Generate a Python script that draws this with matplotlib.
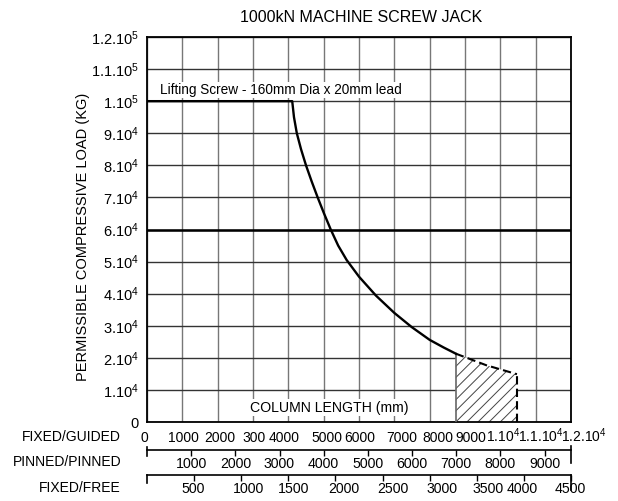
import matplotlib
matplotlib.use('Agg')
import matplotlib.pyplot as plt
from matplotlib.transforms import ScaledTranslation

plt.rcParams['font.family'] = ['Liberation Sans', 'DejaVu Sans']
plt.rcParams['mathtext.fontset'] = 'custom'
plt.rcParams['mathtext.rm'] = 'Liberation Sans'
plt.rcParams['mathtext.default'] = 'regular'
plt.rcParams['hatch.linewidth'] = 0.7

# permissible load curve (column length mm, load kg), fixed/guided scale
curve_x = [0, 4110, 4160, 4240, 4360, 4500, 4660, 4830, 5010, 5200, 5410, 5650,
           6000, 6480, 7000, 7490, 8000, 8400, 8740]
curve_y = [100000, 100000, 95000, 90000, 85000, 80000, 75000, 70000, 65000, 60000, 55000, 50500,
           45300, 39400, 34000, 29600, 25600, 23200, 21300]
# dashed extension over the hatched zone
dash_x = [8740, 9600, 10470]
dash_y = [21300, 17700, 14900]
limit_load = 60000

fg_ticks = list(range(0, 13000, 1000))
fg_labels = ['0', '1000', '2000', '300', '4000', '5000', '6000', '7000', '8000', '9000',
             r'$1.10^4$', r'$1.1.10^4$', r'$1.2.10^4$']
pp_ticks = [1000, 2000, 3000, 4000, 5000, 6000, 7000, 8000, 9000]
ff_ticks = [500, 1000, 1500, 2000, 2500, 3000, 3500, 4000, 4500]
load_ticks = list(range(0, 130000, 10000))
load_labels = ['0'] + [r'$%d.10^4$' % i for i in range(1, 10)] + [r'$1.10^5$', r'$1.1.10^5$', r'$1.2.10^5$']

fig = plt.figure(figsize=(6.18, 5.01), dpi=100)
ax = fig.add_axes([147 / 618, (501 - 422) / 501, 424 / 618, 385 / 501])
ax.set_xlim(0, 12000)
ax.set_ylim(0, 120000)

ax.set_xticks(fg_ticks)
ax.set_xticklabels(fg_labels)
ax.set_yticks(load_ticks)
ax.set_yticklabels(load_labels)
ax.tick_params(length=0, labelsize=10.5)
ax.tick_params(axis='x', pad=14.4, labelsize=10)
ax.tick_params(axis='y', pad=6)
ax.xaxis.grid(True, color='#777777', linewidth=1.0)
ax.yaxis.grid(True, color='#333333', linewidth=1.0)
ax.set_axisbelow(True)
for s in ax.spines.values():
    s.set_linewidth(1.3)


def nudge(labels, shifts):
    # hand-lettered labels sit a little off their ticks
    for lbl, dx in zip(labels, shifts):
        lbl.set_transform(lbl.get_transform() + ScaledTranslation(dx / 100, 0, fig.dpi_scale_trans))


for lbl in ax.get_xticklabels():
    lbl.set_verticalalignment('baseline')
nudge(ax.get_xticklabels(), [-3, 1, 2, 1, -4, 3, 1, 7, 8, 6, 3, 5, 13])

# curve
ax.plot(curve_x, curve_y, color='black', linewidth=1.7, zorder=4, solid_joinstyle='round')
ax.axhline(limit_load, color='black', linewidth=1.8, zorder=4)

# hatched zone
ax.fill_between(dash_x, 0, dash_y, facecolor='white', edgecolor='#444444',
                hatch='///', linewidth=0, zorder=2)
ax.plot([dash_x[0], dash_x[0]], [0, dash_y[0]], color='#666666', linewidth=1.2, zorder=3)
ax.plot(dash_x, dash_y, color='black', linewidth=1.5, dashes=(4, 2), zorder=4)
ax.plot([dash_x[-1], dash_x[-1]], [0, dash_y[-1]], color='black', linewidth=1.5,
        dashes=(4, 2), zorder=4)

ax.text(375, 103500, 'Lifting Screw - 160mm Dia x 20mm lead', fontsize=9.8,
        va='center', ha='left', zorder=5,
        bbox=dict(facecolor='white', edgecolor='none', pad=1))
ax.text(5160, 4400, 'COLUMN LENGTH (mm)', fontsize=10.2, va='center', ha='center', zorder=5,
        bbox=dict(facecolor='white', edgecolor='none', pad=1))


def ya(py):
    return (422 - py) / 385


# secondary scales
sec2 = ax.secondary_xaxis(ya(450), functions=(lambda x: x * 0.8, lambda x: x / 0.8))
sec2.set_xticks(pp_ticks)
sec2.set_xticklabels([str(t) for t in pp_ticks])
sec2.tick_params(direction='out', length=4, width=1, labelsize=10.2, pad=1)
sec2.spines['bottom'].set_linewidth(1.2)

sec3 = ax.secondary_xaxis(ya(475), functions=(lambda x: x * 0.375, lambda x: x / 0.375))
sec3.set_xticks(ff_ticks)
sec3.set_xticklabels([str(t) for t in ff_ticks])
sec3.tick_params(direction='out', length=4, width=1, labelsize=10.2, pad=1)
sec3.spines['bottom'].set_linewidth(1.2)
nudge(sec3.get_xticklabels(), [-1, 7, 5, 8, 10, 12, 11, -2, -1])

# end marks of the secondary scales
for x0, y0, y1 in [(0, 447, 456), (1, 446, 463), (0, 475, 483), (1, 475, 490)]:
    ax.plot([x0, x0], [ya(y0), ya(y1)], color='black', linewidth=1.2,
            transform=ax.transAxes, clip_on=False)

fig.text(121 / 618, 1 - 437 / 501, 'FIXED/GUIDED', fontsize=10, ha='right', va='center')
fig.text(121 / 618, 1 - 462 / 501, 'PINNED/PINNED', fontsize=10, ha='right', va='center')
fig.text(121 / 618, 1 - 488 / 501, 'FIXED/FREE', fontsize=10, ha='right', va='center')

fig.text(83 / 618, 1 - 237 / 501, 'PERMISSIBLE COMPRESSIVE LOAD (KG)', fontsize=10.5,
         rotation=90, ha='center', va='center')
fig.text(361 / 618, 1 - 17 / 501, '1000kN MACHINE SCREW JACK', fontsize=11.5,
         ha='center', va='center')

fig.savefig('out.png', dpi=100)
